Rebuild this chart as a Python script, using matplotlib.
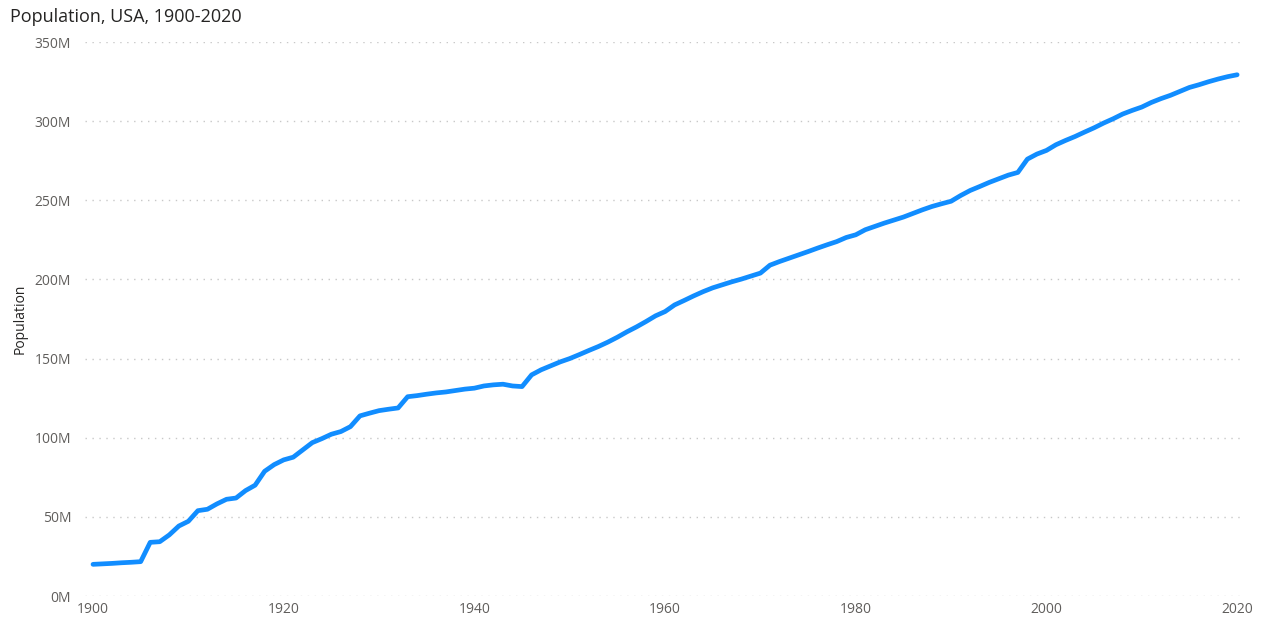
import matplotlib
matplotlib.use("Agg")
import matplotlib.pyplot as plt
from matplotlib.ticker import FuncFormatter

years = list(range(1900, 2021))
# population in millions
pop_1900_1919 = [20.0, 20.3, 20.6, 21.0, 21.3, 21.7, 33.9, 34.3, 38.6, 44.2,
                 47.2, 53.9, 54.8, 58.2, 61.1, 61.9, 66.6, 70.0, 78.8, 83.0]
pop_1920_1939 = [86.0, 87.7, 92.3, 96.9, 99.4, 102.2, 103.9, 107.0, 113.8, 115.5,
                 117.1, 118.0, 118.8, 125.9, 126.6, 127.5, 128.3, 128.9, 129.8, 130.7]
pop_1940_1959 = [131.3, 132.7, 133.4, 133.8, 132.7, 132.3, 139.7, 142.9, 145.4, 147.9,
                 150.0, 152.5, 155.1, 157.6, 160.4, 163.5, 166.9, 170.0, 173.4, 177.0]
pop_1960_1979 = [179.7, 183.9, 186.7, 189.6, 192.3, 194.7, 196.6, 198.5, 200.2, 202.1,
                 204.0, 209.0, 211.3, 213.4, 215.5, 217.6, 219.8, 221.9, 223.9, 226.5]
pop_1980_1999 = [228.2, 231.4, 233.5, 235.6, 237.5, 239.4, 241.7, 244.0, 246.1, 247.8,
                 249.4, 253.0, 256.2, 258.7, 261.3, 263.6, 265.9, 267.6, 276.0, 279.2]
pop_2000_2020 = [281.5, 285.1, 287.8, 290.3, 293.1, 295.8, 298.8, 301.5, 304.5, 306.8,
                 308.9, 311.8, 314.2, 316.3, 318.8, 321.3, 323.0, 324.9, 326.6, 328.1, 329.3]
population_m = (pop_1900_1919 + pop_1920_1939 + pop_1940_1959 +
                pop_1960_1979 + pop_1980_1999 + pop_2000_2020)
population = [v * 1e6 for v in population_m]

x_ticks = [1900, 1920, 1940, 1960, 1980, 2000, 2020]
y_ticks = [0, 50e6, 100e6, 150e6, 200e6, 250e6, 300e6, 350e6]

plt.rcParams['font.family'] = ['Open Sans', 'DejaVu Sans']

fig = plt.figure(figsize=(12.61, 6.2), dpi=100)
ax = fig.add_axes([85 / 1261, 1 - 596 / 620, 1155 / 1261, 554 / 620])

ax.plot(years, population, color='#118DFF', linewidth=3.4, solid_capstyle='round',
        solid_joinstyle='round')

ax.set_xlim(1899.16, 2020.3)
ax.set_ylim(0, 350e6)
ax.set_xticks(x_ticks)
ax.set_yticks(y_ticks)
ax.yaxis.set_major_formatter(FuncFormatter(lambda v, p: f"{int(round(v / 1e6))}M"))

ax.grid(axis='y', color='#C8C8C8', linestyle=(0, (1, 4)), linewidth=1.0)
ax.grid(axis='x', visible=False)
ax.set_axisbelow(True)
for s in ax.spines.values():
    s.set_visible(False)
ax.tick_params(axis='both', length=0, labelsize=10, colors='#605E5C')
ax.tick_params(axis='y', pad=10)
ax.tick_params(axis='x', pad=4)

ax.set_ylabel('Population', fontsize=10, color='#252423', labelpad=5)

fig.text(10 / 1261, 1 - 17 / 620, 'Population, USA, 1900-2020', fontsize=13,
         color='#252423', ha='left', va='center')

fig.savefig('out.png', dpi=100)
